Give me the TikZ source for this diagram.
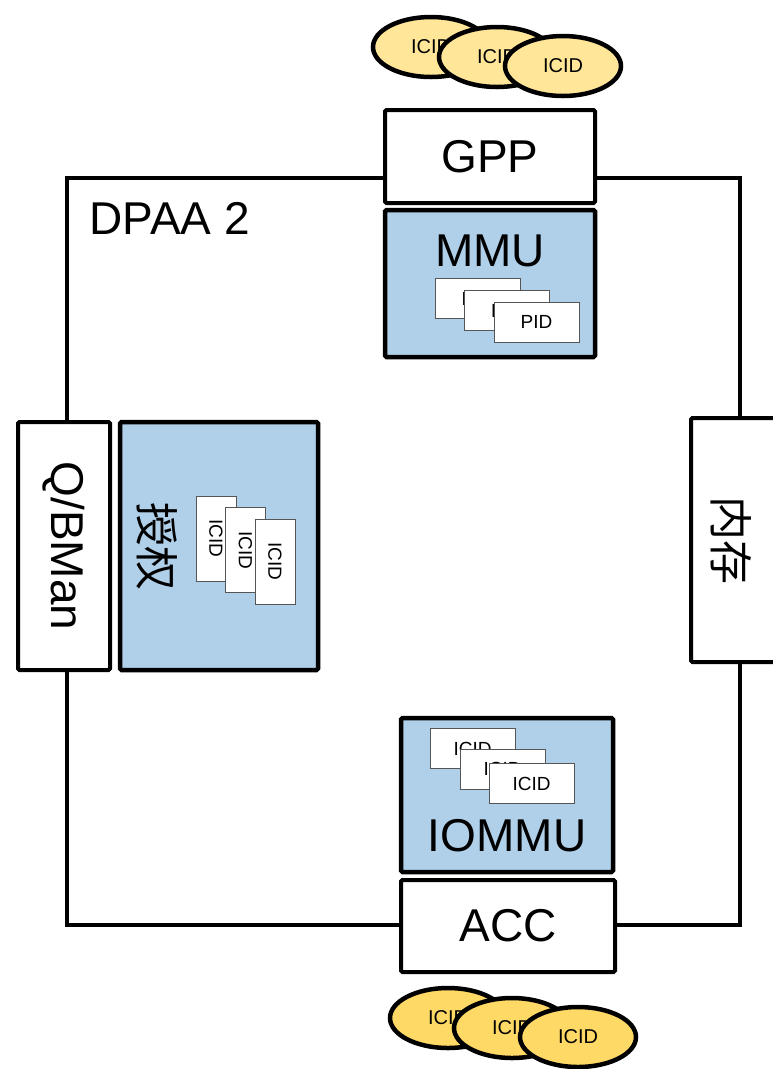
\documentclass[tikz,border=0pt]{standalone}
\usepackage{fontspec}
\setmainfont{Liberation Sans}
\newfontfamily\cjk{Noto Sans CJK SC}
\usetikzlibrary{shapes.geometric}
\definecolor{boxblue}{HTML}{B0CFE8}
\definecolor{lightgold}{HTML}{FFE699}
\definecolor{gold}{HTML}{FFD966}
\definecolor{cardgray}{HTML}{555555}
\tikzset{
  big/.style={font=\fontsize{46}{54}\selectfont},
  whitebox/.style={draw=black, line width=4pt, fill=white, rounded corners=1.5pt, inner sep=0pt},
  bluebox/.style={draw=black, line width=4.5pt, fill=boxblue, rounded corners=1.5pt, inner sep=0pt},
  card/.style={draw=cardgray, line width=1pt, fill=white, inner sep=0pt, minimum width=85pt, minimum height=40pt, font=\fontsize{19}{22}\selectfont},
  vcard/.style={draw=cardgray, line width=1pt, fill=white, inner sep=0pt, minimum width=40pt, minimum height=85pt, font=\fontsize{19}{22}\selectfont},
  icidell/.style={ellipse, draw=black, line width=4.5pt, inner sep=0pt, minimum width=116pt, minimum height=60pt, font=\fontsize{20}{24}\selectfont},
}
\begin{document}
\begin{tikzpicture}[x=1pt,y=-1pt]
\useasboundingbox (0,0) rectangle (772,1069);
% frame
\node[draw=black, line width=4pt, inner sep=0pt, minimum width=673pt, minimum height=747pt] (frame) at (403.5,551.5) {};
\node[big, anchor=base west] (dpaa) at (86,234) {DPAA 2};

% top ellipses
\node[icidell, fill=lightgold] (e1) at (431,47) {ICID};
\node[icidell, fill=lightgold] (e2) at (497,57) {ICID};
\node[icidell, fill=lightgold] (e3) at (563,66) {ICID};

% GPP
\node[whitebox, big, minimum width=210pt, minimum height=93pt] (gpp) at (490,156.5) {GPP};

% MMU
\node[bluebox, minimum width=210pt, minimum height=147pt] (mmu) at (490,283.5) {};
\node[big] (mmut) at (490,251) {MMU};
\node[card] (p1) at (477.5,298.5) {PID};
\node[card] (p2) at (507,310.5) {PID};
\node[card] (p3) at (536.5,322) {PID};

% Q/BMan
\node[whitebox, minimum width=92pt, minimum height=248pt] (qb) at (64,546) {};
\node[big, rotate=-90] (qbt) at (64,546) {Q/BMan};

% authorization box
\node[bluebox, minimum width=198pt, minimum height=248pt] (auth) at (219,546) {};
\node[font=\cjk\fontsize{44}{50}\selectfont, rotate=-90] (autht) at (157,546) {授权};
\node[vcard] (c1) at (216,538.5) {\rotatebox{-90}{ICID}};
\node[vcard] (c2) at (245.5,550) {\rotatebox{-90}{ICID}};
\node[vcard] (c3) at (275,561.5) {\rotatebox{-90}{ICID}};

% memory
\node[whitebox, minimum width=92pt, minimum height=244pt] (mem) at (737,540) {};
\node[font=\cjk\fontsize{44}{50}\selectfont, rotate=-90] (memt) at (731,540) {内存};

% IOMMU
\node[bluebox, minimum width=212pt, minimum height=154pt] (iommu) at (507,795) {};
\node[card] (i1) at (472.5,748.5) {ICID};
\node[card] (i2) at (502.5,769) {ICID};
\node[card] (i3) at (531.5,783.5) {ICID};
\node[big] (iommut) at (507,836) {IOMMU};

% ACC
\node[whitebox, big, minimum width=214pt, minimum height=92pt] (acc) at (508,926) {ACC};

% bottom ellipses
\node[icidell, fill=gold] (b1) at (448,1018) {ICID};
\node[icidell, fill=gold] (b2) at (512,1028) {ICID};
\node[icidell, fill=gold] (b3) at (578,1037) {ICID};
\end{tikzpicture}
\end{document}
